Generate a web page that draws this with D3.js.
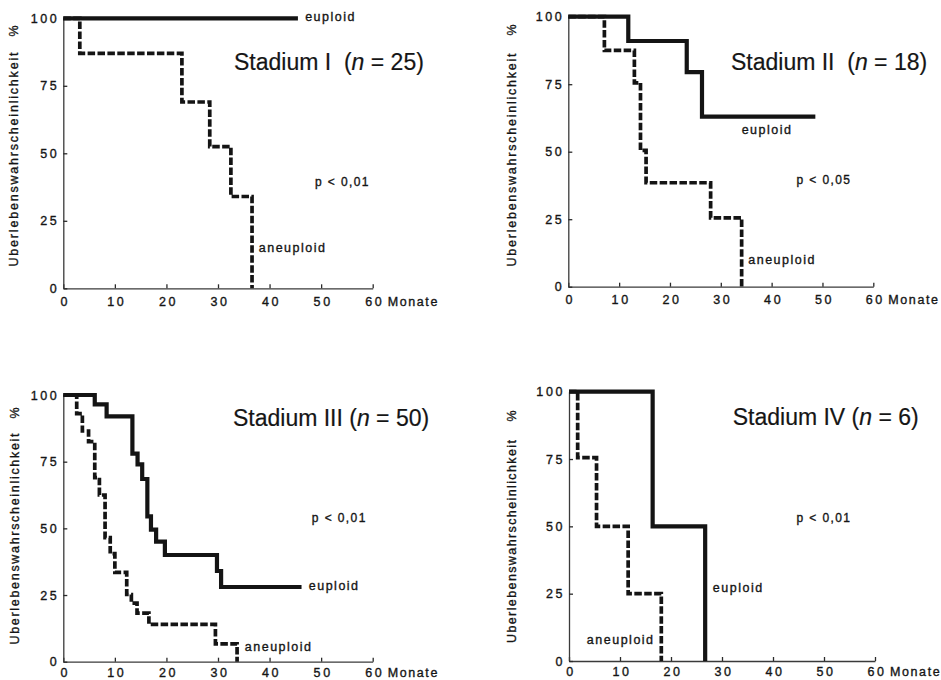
<!DOCTYPE html>
<html><head><meta charset="utf-8">
<script src="https://cdn.jsdelivr.net/npm/d3@7"></script>
<style>
body{margin:0;background:#fff}
svg{display:block;background:#fff}
text{font-family:"Liberation Sans",Arial,Helvetica,sans-serif;fill:#151515}
.thick{stroke:#151515;stroke-width:0.35px}
</style>
</head><body>
<svg id="chart" width="941" height="680"></svg>
<script>
// ---------- data ----------
const monthTicks = [0, 10, 20, 30, 40, 50, 60];
const survivalTicks = [0, 25, 50, 75, 100];
const stageNames = ["I", "II", "III", "IV"];
const stageN = [25, 18, 50, 6];
const pValues = ["p < 0,01", "p < 0,05", "p < 0,01", "p < 0,01"];
const yTitle = "Uberlebenswahrscheinlichkeit";
const xUnit = "Monate";

// Stadium I
const euTimes1 = [0, 45.5];
const euSurv1  = [100, 100];
const anTimes1 = [0, 3.2, 23.0, 28.4, 32.5, 36.6];
const anSurv1  = [100, 87, 69, 52.5, 34, 0];
// Stadium II
const euTimes2 = [0, 11.8, 23.3, 26.3, 48.6];
const euSurv2  = [100, 91, 79.5, 63, 63];
const anTimes2 = [0, 7.1, 13.0, 14.2, 15.3, 28.0, 34.1];
const anSurv2  = [100, 87.5, 75.5, 50.5, 38.5, 25.5, 0];
// Stadium III
const euTimes3 = [0, 6.1, 8.4, 13.4, 14.4, 15.3, 16.3, 17.0, 18.0, 19.7, 29.8, 30.6, 46.2];
const euSurv3  = [100, 96.5, 92, 78, 74, 68.5, 54.5, 49.5, 45, 40, 34, 28, 28];
const anTimes3 = [0, 2.6, 3.7, 4.9, 6.1, 7.0, 8.1, 9.1, 10.0, 12.3, 13.2, 14.3, 16.6, 29.5, 33.7];
const anSurv3  = [100, 93, 86.5, 82.5, 69, 62.5, 46.5, 40.5, 33.5, 25.2, 22, 18.2, 14, 6.7, 0];
// Stadium IV
const euTimes4 = [0, 16.4, 26.7];
const euSurv4  = [100, 50, 0];
const anTimes4 = [0, 1.7, 5.4, 11.6, 18.1];
const anSurv4  = [100, 75.5, 50, 25, 0];

const euTimes = [euTimes1, euTimes2, euTimes3, euTimes4];
const euSurv  = [euSurv1, euSurv2, euSurv3, euSurv4];
const anTimes = [anTimes1, anTimes2, anTimes3, anTimes4];
const anSurv  = [anSurv1, anSurv2, anSurv3, anSurv4];

// ---------- layout (pixels) ----------
const layout = [
  {x0: 63.3, x60: 372.7, yTop: 18.3, yBot: 288.3, tickOff: 9, titleX: 13.5, titleMid: 159.5, titleLen: 214, pctY: 31,
   lab: {title: [33.1, 83.8], eu: [46.9, 100.6], an: [37.9, 14.9], p: [48.8, 39.4]}, dbl: true},
  {x0: 568.3, x60: 873.3, yTop: 16.7, yBot: 286.7, tickOff: 8, titleX: 511.7, titleMid: 160, titleLen: 213, pctY: 30,
   lab: {title: [32.0, 83.2], eu: [34.1, 58], an: [35.4, 9.9], p: [44.9, 39.5]}, dbl: true},
  {x0: 63.3, x60: 372.7, yTop: 395, yBot: 661.7, tickOff: 6.5, titleX: 15, titleMid: 539, titleLen: 211, pctY: 413,
   lab: {title: [32.9, 91.4], eu: [47.6, 28.4], an: [35.2, 5.5], p: [48.2, 53.9]}, dbl: false},
  {x0: 569, x60: 875, yTop: 391.7, yBot: 661, tickOff: 6.5, titleX: 511.7, titleMid: 541.5, titleLen: 203, pctY: 416,
   lab: {title: [32.1, 90.6], eu: [28.2, 27.1], an: [3.5, 7.8], p: [44.6, 53.1]}, dbl: false}
];

const svg = d3.select("#chart");
const ink = "#141414";

layout.forEach((L, i) => {
  const x = d3.scaleLinear().domain([0, 60]).range([L.x0, L.x60]);
  const y = d3.scaleLinear().domain([0, 100]).range([L.yBot, L.yTop]);
  const g = svg.append("g");

  // axes
  const ax = g.append("g").attr("transform", `translate(0,${L.yBot})`)
    .call(d3.axisBottom(x).tickValues(monthTicks).tickSize(-4).tickSizeOuter(0).tickPadding(0));
  ax.select(".domain").attr("stroke", "#3a3a3a").attr("stroke-width", 1.3);
  ax.selectAll(".tick line").attr("stroke", "#2a2a2a").attr("stroke-width", 1.3);
  ax.selectAll(".tick text").attr("y", L.tickOff).attr("dy", "0.71em").attr("dx", 1.5)
    .attr("class", "thick")
    .attr("font-size", 12.5).attr("letter-spacing", 2.6).attr("fill", ink)
    .attr("font-family", "'Liberation Sans',Arial,sans-serif");

  const ay = g.append("g").attr("transform", `translate(${L.x0},0)`)
    .call(d3.axisLeft(y).tickValues(survivalTicks).tickSize(-4).tickSizeOuter(0).tickPadding(4));
  ay.select(".domain").attr("stroke", "#3a3a3a").attr("stroke-width", 1.3);
  ay.selectAll(".tick line").attr("stroke", "#2a2a2a").attr("stroke-width", 1.3);
  ay.selectAll(".tick text").attr("font-size", 12.5).attr("letter-spacing", 2.6).attr("fill", ink)
    .attr("class", "thick")
    .attr("font-family", "'Liberation Sans',Arial,sans-serif");

  // x unit
  g.append("text").attr("class", "thick").attr("x", L.x60 + 15).attr("y", L.yBot + L.tickOff).attr("dy", "0.71em")
    .attr("font-size", 12.5).attr("letter-spacing", 1.6).text(xUnit);

  // y title
  g.append("text").attr("class", "thick")
    .attr("transform", `translate(${L.titleX},${L.titleMid}) rotate(-90)`)
    .attr("text-anchor", "middle").attr("dy", "0.35em")
    .attr("font-size", 12.5).attr("textLength", L.titleLen).attr("lengthAdjust", "spacing")
    .text(yTitle);
  g.append("text").attr("class", "thick")
    .attr("transform", `translate(${L.titleX},${L.pctY}) rotate(-90)`)
    .attr("text-anchor", "middle").attr("dy", "0.35em")
    .attr("font-size", 12.5).text("%");

  // curves
  const line = d3.line().x(d => x(d[0])).y(d => y(d[1])).curve(d3.curveStepAfter);
  const eu = euTimes[i].map((t, k) => [t, euSurv[i][k]]);
  const an = anTimes[i].map((t, k) => [t, anSurv[i][k]]);
  g.append("path").attr("d", line(eu)).attr("fill", "none")
    .attr("stroke", ink).attr("stroke-width", 4.2);
  g.append("path").attr("d", line(an)).attr("fill", "none")
    .attr("stroke", ink).attr("stroke-width", 3.7).attr("stroke-dasharray", "7.5,2.4");

  // labels
  const title = g.append("text").attr("x", x(L.lab.title[0])).attr("y", y(L.lab.title[1]))
    .attr("dy", "0.36em").attr("font-size", 23).attr("class", "thick").style("stroke-width", "0.2px");
  title.append("tspan").text("Stadium " + stageNames[i] + (L.dbl ? "\u00a0\u00a0(" : " ("));
  title.append("tspan").attr("font-style", "italic").text("n");
  title.append("tspan").text(" = " + stageN[i] + ")");

  g.append("text").attr("class", "thick").attr("x", x(L.lab.eu[0])).attr("y", y(L.lab.eu[1])).attr("dy", "0.35em")
    .attr("font-size", 12.5).attr("letter-spacing", 1.5).text("euploid");
  g.append("text").attr("class", "thick").attr("x", x(L.lab.an[0])).attr("y", y(L.lab.an[1])).attr("dy", "0.35em")
    .attr("font-size", 12.5).attr("letter-spacing", 1.5).text("aneuploid");
  g.append("text").attr("class", "thick").attr("x", x(L.lab.p[0])).attr("y", y(L.lab.p[1])).attr("dy", "0.35em")
    .attr("font-size", 12).attr("letter-spacing", 1.4).text(pValues[i]);
});
</script>
</body></html>
